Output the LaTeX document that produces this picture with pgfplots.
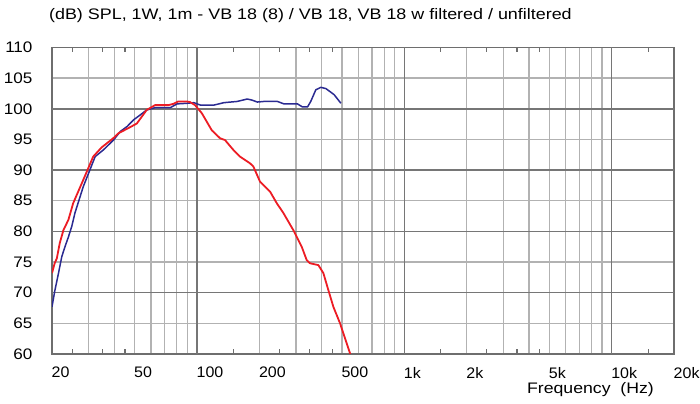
\documentclass[border=0pt]{standalone}
\usepackage{pgfplots}
\pgfplotsset{compat=1.18}
\usepackage{fontspec}
\setmainfont{Liberation Sans}
\definecolor{gridlight}{RGB}{178,178,178}
\definecolor{griddark}{RGB}{118,118,118}
\definecolor{axframe}{RGB}{110,110,110}
\definecolor{curvered}{RGB}{236,28,36}
\definecolor{curveblue}{RGB}{42,42,145}
\newcommand{\lblfont}{\fontsize{15.3}{18}\selectfont}
\begin{document}
\begin{tikzpicture}
\path[use as bounding box] (0,0) rectangle (700bp,404bp);
\begin{axis}[
  at={(52bp,50bp)}, anchor=south west,
  scale only axis, width=622bp, height=306.5bp,
  xmode=log, xmin=20, xmax=20000, ymin=60, ymax=110,
  axis line style={draw=axframe, line width=1.5bp},
  xtick={20,30,40,50,60,70,80,90,100,200,300,400,500,600,700,800,900,1000,2000,3000,4000,5000,6000,7000,8000,9000,10000,20000},
  xticklabels={20,,,50,,,,,100,200,,,500,,,,,1k,2k,,,5k,,,,,10k,20k},
  minor xtick={25,35,45,150,250,350,450,1500,2500,3500,4500,15000},
  ytick={60,65,70,75,80,85,90,95,100,105,110},
  yticklabels={60,65,70,75,80,85,90,95,100,105,110},
  major tick length=0pt, minor tick length=5bp,
  tick align=inside, xtick pos=both,
  minor tick style={draw=axframe, line width=1.2bp},
  xmajorgrids, ymajorgrids,
  major grid style={draw=gridlight, line width=1.3bp},
  extra x ticks={100,1000,10000}, extra x tick labels={},
  extra x tick style={grid=major, major grid style={draw=griddark, line width=1.5bp}, major tick length=0pt},
  extra y ticks={70,80,90,100}, extra y tick labels={},
  extra y tick style={grid=major, major grid style={draw=griddark, line width=1.5bp}, major tick length=0pt},
  xticklabel style={font=\lblfont, anchor=north west, inner sep=0pt, yshift=-13bp, xshift=-0.5bp, xscale=1.05},
  yticklabel style={font=\lblfont, anchor=east, inner sep=0pt, xshift=-19.3bp, xscale=1.12},
  title={(dB) SPL, 1W, 1m - VB 18 (8) / VB 18, VB 18 w filtered / unfiltered},
  title style={font=\lblfont, anchor=base west, inner sep=0pt, at={(axis description cs:-0.005,1.0718)}, xscale=1.175},
  xlabel={Frequency\ \ (Hz)},
  xlabel style={font=\lblfont, anchor=base east, inner sep=0pt, at={(axis description cs:0.968,-0.1305)}, xscale=1.16},
]
% blue curve (filtered)
\addplot[curveblue, line width=1.5bp, line join=round] coordinates {
(20,67.7) (20.6,70.2) (21.5,73.2) (22.3,75.9) (23.1,77.5) (24.0,79.1)
(24.9,80.8) (25.8,83.0) (28.3,87.3) (32.3,92.2) (35.4,93.3) (39.6,94.9)
(42.7,96.3) (46,97.1) (49.5,98.2) (53.3,99.0) (57.2,99.8) (63,100.2)
(74.5,100.2) (80.2,100.8) (89.7,100.9) (96.6,101.0) (104,100.6) (120.6,100.6)
(134.9,101.0) (156.5,101.2) (175,101.6) (185,101.4) (195.6,101.1) (210.6,101.2)
(244.4,101.2) (263,100.8) (305.4,100.8) (323,100.3) (341.5,100.3) (354,101.2)
(374.5,103.1) (396,103.5) (418.8,103.3) (459,102.3) (494.8,100.9)
};
% red curve (unfiltered)
\addplot[curvered, line width=1.8bp, line join=round] coordinates {
(20,73.2) (20.6,74.8) (21.1,75.6) (21.8,78.1) (22.7,80.2) (24.0,81.9)
(25.3,84.6) (28.3,88.4) (31.6,92.2) (34.7,93.7) (39.5,95.2) (41.8,96.0)
(47.6,97.0) (51.3,97.6) (57.2,99.8) (62.8,100.6) (72.8,100.6) (77,100.8)
(81.3,101.2) (89.3,101.2) (92.6,101.1) (97.9,100.6) (105.5,99.3) (117.9,96.5)
(129.2,95.2) (136.6,94.9) (149.8,93.3) (161.4,92.2) (180.4,91.1) (187.1,90.6)
(201.6,88.1) (225.2,86.5) (242.7,84.6) (261.2,83.0) (291.8,80.2) (308.4,78.6)
(320.2,77.5) (338.6,75.3) (351.2,74.8) (385.2,74.5) (407.2,73.2) (430.6,70.4)
(455,67.7) (490.2,65.0) (528,61.7) (547.6,60.1) (560,59.0)
};
\end{axis}
\end{tikzpicture}
\end{document}
